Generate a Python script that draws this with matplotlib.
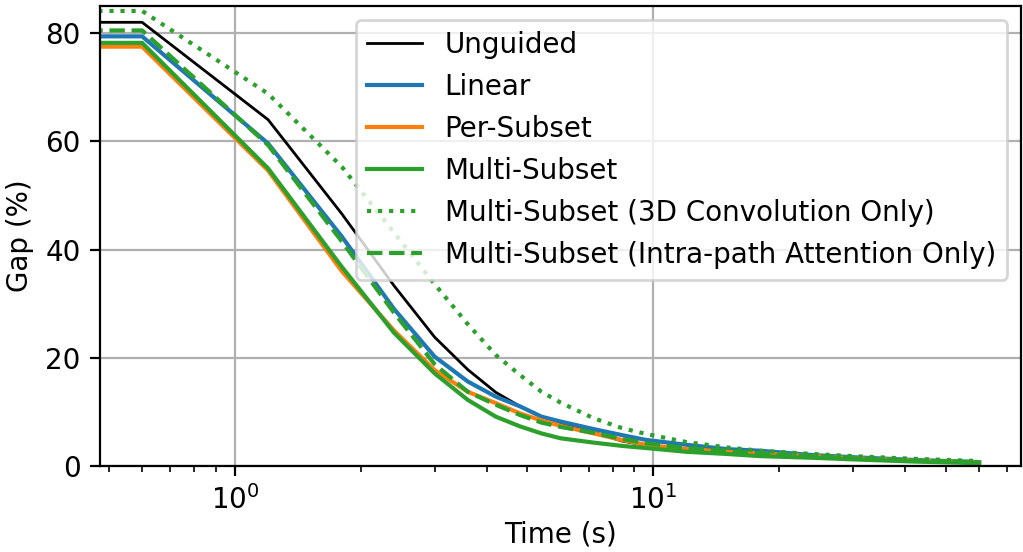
import matplotlib
matplotlib.use("Agg")
import matplotlib.pyplot as plt

# time in seconds (first point at 0 is clipped on the log axis)
time_s = [0, 0.6, 1.2, 1.8, 2.4, 3.0, 3.6, 4.2, 4.8, 5.4, 6.0, 7.2, 8.4, 9.6,
          12, 15, 18, 24, 30, 42, 60]

gap_unguided = [82.0, 82.0, 64.0, 46.6, 33.3, 23.8, 17.8, 13.6, 11.0, 9.1, 8.0,
                6.2, 4.6, 3.8, 3.0, 2.5, 2.1, 1.6, 1.3, 0.9, 0.6]
gap_linear = [79.4, 79.4, 59.6, 42.4, 29.0, 20.2, 15.6, 12.8, 11.0, 9.1, 8.2,
              6.8, 5.7, 4.8, 3.9, 3.1, 2.8, 2.0, 1.6, 1.1, 0.7]
gap_per_subset = [77.5, 77.5, 54.6, 36.0, 25.0, 17.7, 13.7, 11.6, 9.7, 8.4, 7.4,
                  6.0, 4.8, 3.9, 3.1, 2.6, 2.3, 1.8, 1.4, 1.0, 0.6]
gap_multi = [78.2, 78.2, 55.0, 36.8, 24.6, 17.1, 12.2, 9.1, 7.3, 6.0, 5.1,
             4.3, 3.7, 3.3, 2.6, 2.2, 1.8, 1.5, 1.2, 0.8, 0.5]
gap_multi_conv = [84.1, 84.1, 68.8, 55.3, 43.1, 33.6, 26.2, 20.5, 16.8, 13.7, 11.7,
                  8.8, 7.0, 5.9, 4.4, 3.4, 2.8, 2.2, 1.8, 1.3, 0.9]
gap_multi_attn = [80.5, 80.5, 59.3, 41.5, 28.3, 18.8, 13.7, 11.3, 9.4, 8.0, 7.2,
                  6.1, 5.0, 4.2, 3.3, 2.8, 2.3, 1.8, 1.4, 1.0, 0.7]

dpi = 200
fig, ax = plt.subplots(figsize=(1023 / dpi, 552 / dpi), dpi=dpi)
fig.subplots_adjust(left=0.098, right=0.998, top=0.989, bottom=0.156)

ax.plot(time_s, gap_unguided, color="k", lw=1.0, label="Unguided")
ax.plot(time_s, gap_linear, color="C0", lw=1.5, label="Linear")
ax.plot(time_s, gap_per_subset, color="C1", lw=1.5, label="Per-Subset")
ax.plot(time_s, gap_multi, color="C2", lw=1.5, label="Multi-Subset")
ax.plot(time_s, gap_multi_conv, color="C2", lw=1.5, ls=":",
        label="Multi-Subset (3D Convolution Only)")
ax.plot(time_s, gap_multi_attn, color="C2", lw=1.5, ls="--",
        label="Multi-Subset (Intra-path Attention Only)")

ax.set_xscale("log")
ax.set_ylim(0, 85)
ax.set_yticks([0, 20, 40, 60, 80])
ax.set_xlabel("Time (s)", labelpad=2)
ax.set_ylabel("Gap (%)")
ax.grid(True)
ax.legend(loc="upper right")

fig.savefig("out.png", dpi=dpi)
